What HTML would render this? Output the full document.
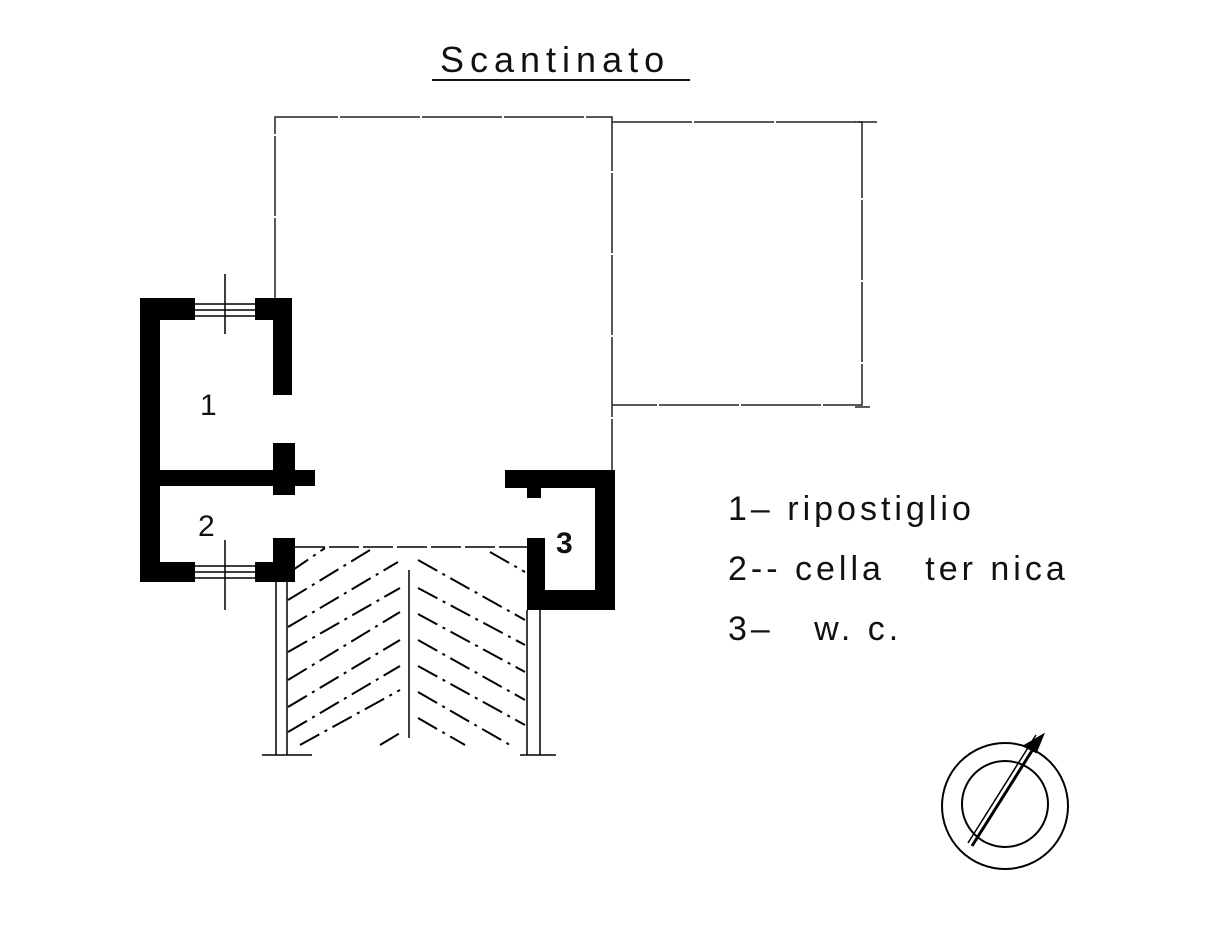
<!DOCTYPE html>
<html><head><style>body{margin:0;background:#fff}</style></head><body>
<svg width="1228" height="922" xmlns="http://www.w3.org/2000/svg" font-family="Liberation Sans, sans-serif">
<rect width="1228" height="922" fill="#fff"/>
<text x="440" y="72" font-size="36" letter-spacing="6" fill="#111">Scantinato</text>
<line x1="432" y1="80" x2="690" y2="80" stroke="#111" stroke-width="2"/>
<g stroke="#222" stroke-width="1.5" fill="none">
<polyline points="275,298 275,117 612,117 612,470" stroke-dasharray="80,2"/>
<polyline points="612,122 862,122 862,405 612,405" stroke-dasharray="80,2"/>
<line x1="855" y1="122" x2="877" y2="122"/>
<line x1="855" y1="407" x2="870" y2="407"/>
</g>
<g fill="#000">
<rect x="140" y="298" width="20" height="284"/>
<rect x="140" y="298" width="55" height="22"/>
<rect x="255" y="298" width="37" height="22"/>
<rect x="273" y="298" width="19" height="97"/>
<rect x="140" y="470" width="175" height="16"/>
<rect x="273" y="443" width="22" height="52"/>
<rect x="140" y="562" width="55" height="20"/>
<rect x="255" y="562" width="40" height="20"/>
<rect x="273" y="538" width="22" height="44"/>
<rect x="505" y="470" width="110" height="18"/>
<rect x="527" y="470" width="14" height="28"/>
<rect x="595" y="470" width="20" height="140"/>
<rect x="527" y="590" width="88" height="20"/>
<rect x="527" y="538" width="18" height="72"/>
</g>
<g stroke="#000" stroke-width="1.5">
<line x1="195" y1="304" x2="255" y2="304"/><line x1="195" y1="310" x2="255" y2="310"/><line x1="195" y1="316" x2="255" y2="316"/>
<line x1="195" y1="566" x2="255" y2="566"/><line x1="195" y1="572" x2="255" y2="572"/><line x1="195" y1="578" x2="255" y2="578"/>
<line x1="225" y1="274" x2="225" y2="334"/><line x1="225" y1="540" x2="225" y2="610"/>
<line x1="276" y1="582" x2="276" y2="755"/><line x1="287" y1="582" x2="287" y2="755"/>
<line x1="527" y1="610" x2="527" y2="755"/><line x1="540" y1="610" x2="540" y2="755"/>
<line x1="409" y1="570" x2="409" y2="738"/>
<line x1="295" y1="547" x2="527" y2="547" stroke-dasharray="30,4"/>
<line x1="262" y1="755" x2="312" y2="755"/><line x1="520" y1="755" x2="556" y2="755"/>
</g>
<g stroke="#000" stroke-width="2" stroke-dasharray="22,6,3,6">
<line x1="290" y1="572" x2="325" y2="548"/>
<line x1="288" y1="600" x2="370" y2="550"/>
<line x1="288" y1="627" x2="398" y2="562"/>
<line x1="288" y1="652" x2="400" y2="588"/>
<line x1="288" y1="680" x2="400" y2="612"/>
<line x1="288" y1="707" x2="400" y2="640"/>
<line x1="288" y1="732" x2="400" y2="666"/>
<line x1="300" y1="745" x2="400" y2="690"/>
<line x1="380" y1="745" x2="400" y2="733"/>
<line x1="418" y1="560" x2="525" y2="620"/>
<line x1="418" y1="588" x2="525" y2="645"/>
<line x1="418" y1="614" x2="525" y2="672"/>
<line x1="418" y1="640" x2="525" y2="700"/>
<line x1="418" y1="666" x2="525" y2="725"/>
<line x1="418" y1="692" x2="510" y2="745"/>
<line x1="418" y1="718" x2="465" y2="745"/>
<line x1="490" y1="552" x2="525" y2="572"/>
</g>
<g font-size="30" fill="#111">
<text x="200" y="415">1</text>
<text x="198" y="536">2</text>
<text x="556" y="553" font-weight="bold">3</text>
</g>
<g font-size="34" fill="#111" letter-spacing="4">
<text x="728" y="520">1– ripostiglio</text>
<text x="728" y="580" xml:space="preserve">2-- cella   ter nica</text>
<text x="728" y="640" xml:space="preserve">3–   w. c.</text>
</g>
<g stroke="#000" stroke-width="2" fill="none">
<circle cx="1005" cy="806" r="63"/>
<circle cx="1005" cy="804" r="43"/>
<line x1="972" y1="846" x2="1040" y2="738" stroke-width="3"/>
<line x1="968" y1="843" x2="1036" y2="735" stroke-width="1.5"/>
<polygon points="1043,735 1024,746 1036,752" fill="#000"/>
</g>
</svg>
</body></html>
